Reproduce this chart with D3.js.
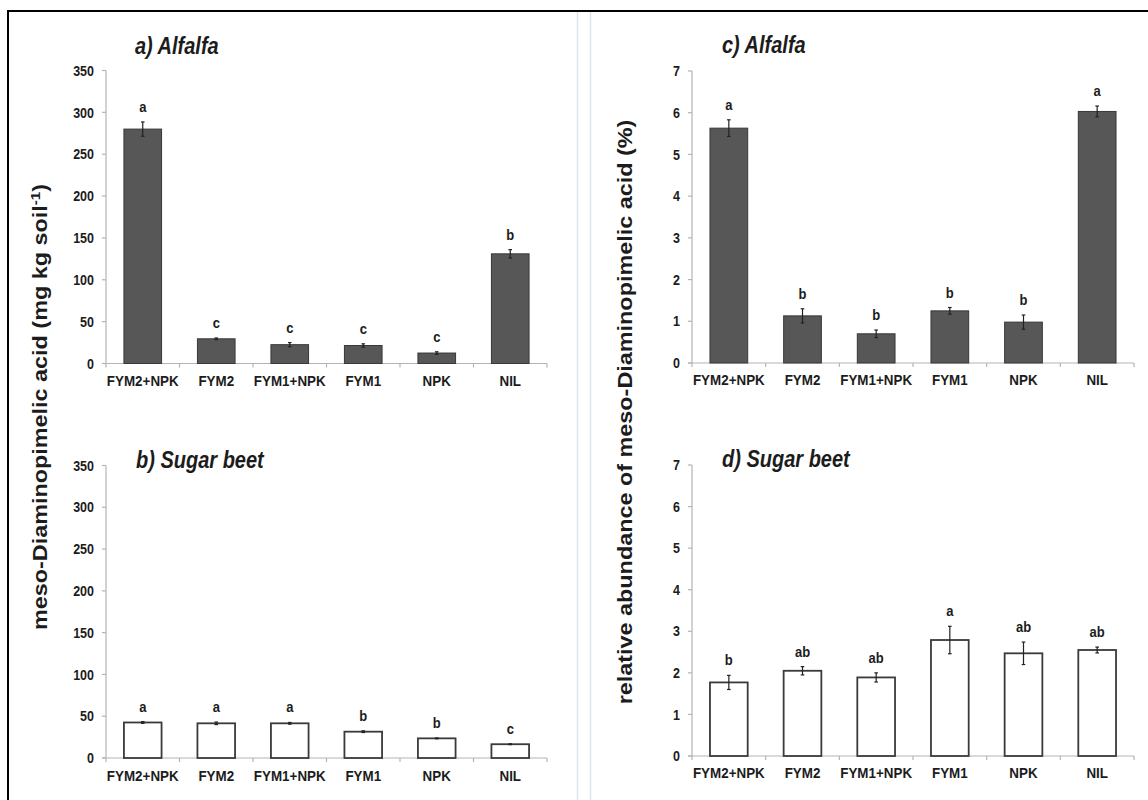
<!DOCTYPE html>
<html>
<head>
<meta charset="utf-8">
<script src="https://cdn.jsdelivr.net/npm/d3@7"></script>
<style>
  html, body { margin: 0; padding: 0; background: #fff; }
  svg { display: block; font-family: "Liberation Sans", Arial, sans-serif; }
</style>
</head>
<body>
<svg id="chart" width="1148" height="800"></svg>
<script>
// ---------- DATA ----------
const categories = ["FYM2+NPK", "FYM2", "FYM1+NPK", "FYM1", "NPK", "NIL"];

const alfalfaDAP      = [280, 29.5, 22.5, 21.5, 12.5, 131];
const alfalfaDAPErr   = [8.5, 1, 2.5, 2, 1.5, 5];
const alfalfaDAPSig   = ["a", "c", "c", "c", "c", "b"];

const beetDAP         = [42.5, 41.5, 41.5, 31.5, 23.5, 16.5];
const beetDAPErr      = [1, 1.5, 1, 1, 0.5, 0.5];
const beetDAPSig      = ["a", "a", "a", "b", "b", "c"];

const alfalfaRel      = [5.63, 1.13, 0.70, 1.25, 0.98, 6.03];
const alfalfaRelErr   = [0.20, 0.17, 0.09, 0.08, 0.17, 0.13];
const alfalfaRelSig   = ["a", "b", "b", "b", "b", "a"];

const beetRel         = [1.77, 2.05, 1.89, 2.79, 2.47, 2.55];
const beetRelErr      = [0.17, 0.10, 0.11, 0.33, 0.27, 0.07];
const beetRelSig      = ["b", "ab", "ab", "a", "ab", "ab"];

const ticksMg  = [0, 50, 100, 150, 200, 250, 300, 350];
const ticksPct = [0, 1, 2, 3, 4, 5, 6, 7];

const titles = ["a) Alfalfa", "b) Sugar beet", "c) Alfalfa", "d) Sugar beet"];
const yLabelLeft  = "meso-Diaminopimelic acid (mg kg soil";
const yLabelRight = "relative abundance of meso-Diaminopimelic acid (%)";

// ---------- DRAW ----------
const svg = d3.select("#chart");
const SY = 1.15;       // vertical stretch of the original figure text
const TXT = "#1c1c1c";

// frame
svg.append("line").attr("x1", 7).attr("x2", 1148).attr("y1", 11).attr("y2", 11)
  .attr("stroke", "#000").attr("stroke-width", 2);
svg.append("line").attr("x1", 8).attr("x2", 8).attr("y1", 10).attr("y2", 800)
  .attr("stroke", "#000").attr("stroke-width", 2);
[577.5, 590.5].forEach(x => {
  svg.append("line").attr("x1", x).attr("x2", x).attr("y1", 12).attr("y2", 800)
    .attr("stroke", "#dde3ee").attr("stroke-width", 1.5);
});

function hText(g, x, y, str, size, opts = {}) {
  return g.append("text")
    .attr("transform", `translate(${x},${y}) scale(1,${SY})`)
    .attr("text-anchor", opts.anchor || "middle")
    .attr("font-size", size)
    .attr("font-weight", "bold")
    .attr("font-style", opts.italic ? "italic" : "normal")
    .attr("fill", TXT)
    .text(str);
}

const panels = [
  { vals: alfalfaDAP, err: alfalfaDAPErr, sig: alfalfaDAPSig, ticks: ticksMg, max: 350,
    x0: 106, x1: 547, y0: 363.5, y1: 70.5, fill: "#575757", stroke: "#383838", sw: 1,
    title: titles[0], tx: 135, ty: 54, lblY: 386 },
  { vals: beetDAP, err: beetDAPErr, sig: beetDAPSig, ticks: ticksMg, max: 350,
    x0: 106, x1: 547, y0: 758, y1: 465.5, fill: "#ffffff", stroke: "#3a3a3a", sw: 1.8,
    title: titles[1], tx: 136, ty: 468, lblY: 781 },
  { vals: alfalfaRel, err: alfalfaRelErr, sig: alfalfaRelSig, ticks: ticksPct, max: 7,
    x0: 692, x1: 1134, y0: 363, y1: 71, fill: "#575757", stroke: "#383838", sw: 1,
    title: titles[2], tx: 722, ty: 53, lblY: 385 },
  { vals: beetRel, err: beetRelErr, sig: beetRelSig, ticks: ticksPct, max: 7,
    x0: 692, x1: 1134, y0: 756, y1: 465, fill: "#ffffff", stroke: "#3a3a3a", sw: 1.8,
    title: titles[3], tx: 722, ty: 467, lblY: 778 }
];

panels.forEach(p => {
  const g = svg.append("g");
  const x = d3.scaleBand().domain(categories).range([p.x0, p.x1])
    .paddingInner(0.488).paddingOuter(0.244);
  const y = d3.scaleLinear().domain([0, p.max]).range([p.y0, p.y1]);
  const step = x.step();
  const axisCol = "#b4b4b4";

  // y axis line + ticks
  g.append("line").attr("x1", p.x0).attr("x2", p.x0).attr("y1", y(p.max)).attr("y2", y(0))
    .attr("stroke", axisCol).attr("stroke-width", 1.2);
  p.ticks.forEach(t => {
    g.append("line").attr("x1", p.x0 - 4).attr("x2", p.x0).attr("y1", y(t)).attr("y2", y(t))
      .attr("stroke", axisCol).attr("stroke-width", 1.2);
    hText(g, p.x0 - 12, y(t) + 0.716 * 12.5 * SY / 2, String(t), 12.5, { anchor: "end" });
  });

  // x axis line + boundary ticks
  g.append("line").attr("x1", p.x0 - 4).attr("x2", p.x1).attr("y1", y(0)).attr("y2", y(0))
    .attr("stroke", axisCol).attr("stroke-width", 1.2);
  d3.range(categories.length + 1).forEach(i => {
    const xx = p.x0 + i * step;
    g.append("line").attr("x1", xx).attr("x2", xx).attr("y1", y(0)).attr("y2", y(0) + 4)
      .attr("stroke", axisCol).attr("stroke-width", 1.2);
  });

  // bars
  g.selectAll("rect.bar").data(categories).join("rect")
    .attr("class", "bar")
    .attr("x", d => x(d))
    .attr("width", x.bandwidth())
    .attr("y", (d, i) => y(p.vals[i]))
    .attr("height", (d, i) => y(0) - y(p.vals[i]))
    .attr("fill", p.fill)
    .attr("stroke", p.stroke)
    .attr("stroke-width", p.sw);

  // error bars
  categories.forEach((c, i) => {
    const cx = x(c) + x.bandwidth() / 2;
    const top = y(p.vals[i] + p.err[i]);
    const bot = y(p.vals[i] - p.err[i]);
    g.append("line").attr("x1", cx).attr("x2", cx).attr("y1", top).attr("y2", bot)
      .attr("stroke", "#222").attr("stroke-width", 1.2);
    [top, bot].forEach(yy => {
      g.append("line").attr("x1", cx - 1.8).attr("x2", cx + 1.8).attr("y1", yy).attr("y2", yy)
        .attr("stroke", "#222").attr("stroke-width", 1.2);
    });
    // significance letter
    hText(g, cx, top - 10, p.sig[i], 13);
    // category label
    hText(g, cx, p.lblY, c, 13.4);
  });

  // title
  hText(g, p.tx, p.ty, p.title, 20, { anchor: "start", italic: true });
});

// y axis titles (rotated)
const yl = svg.append("text")
  .attr("transform", `translate(47,407) rotate(-90) scale(1.17,1)`)
  .attr("text-anchor", "middle")
  .attr("font-size", 20).attr("font-weight", "bold").attr("fill", TXT);
yl.append("tspan").text(yLabelLeft);
yl.append("tspan").attr("dy", -7).attr("font-size", 13).text("-1");
yl.append("tspan").attr("dy", 7).text(")");

svg.append("text")
  .attr("transform", `translate(632,412) rotate(-90) scale(1.17,1)`)
  .attr("text-anchor", "middle")
  .attr("font-size", 20).attr("font-weight", "bold").attr("fill", TXT)
  .text(yLabelRight);
</script>
</body>
</html>
